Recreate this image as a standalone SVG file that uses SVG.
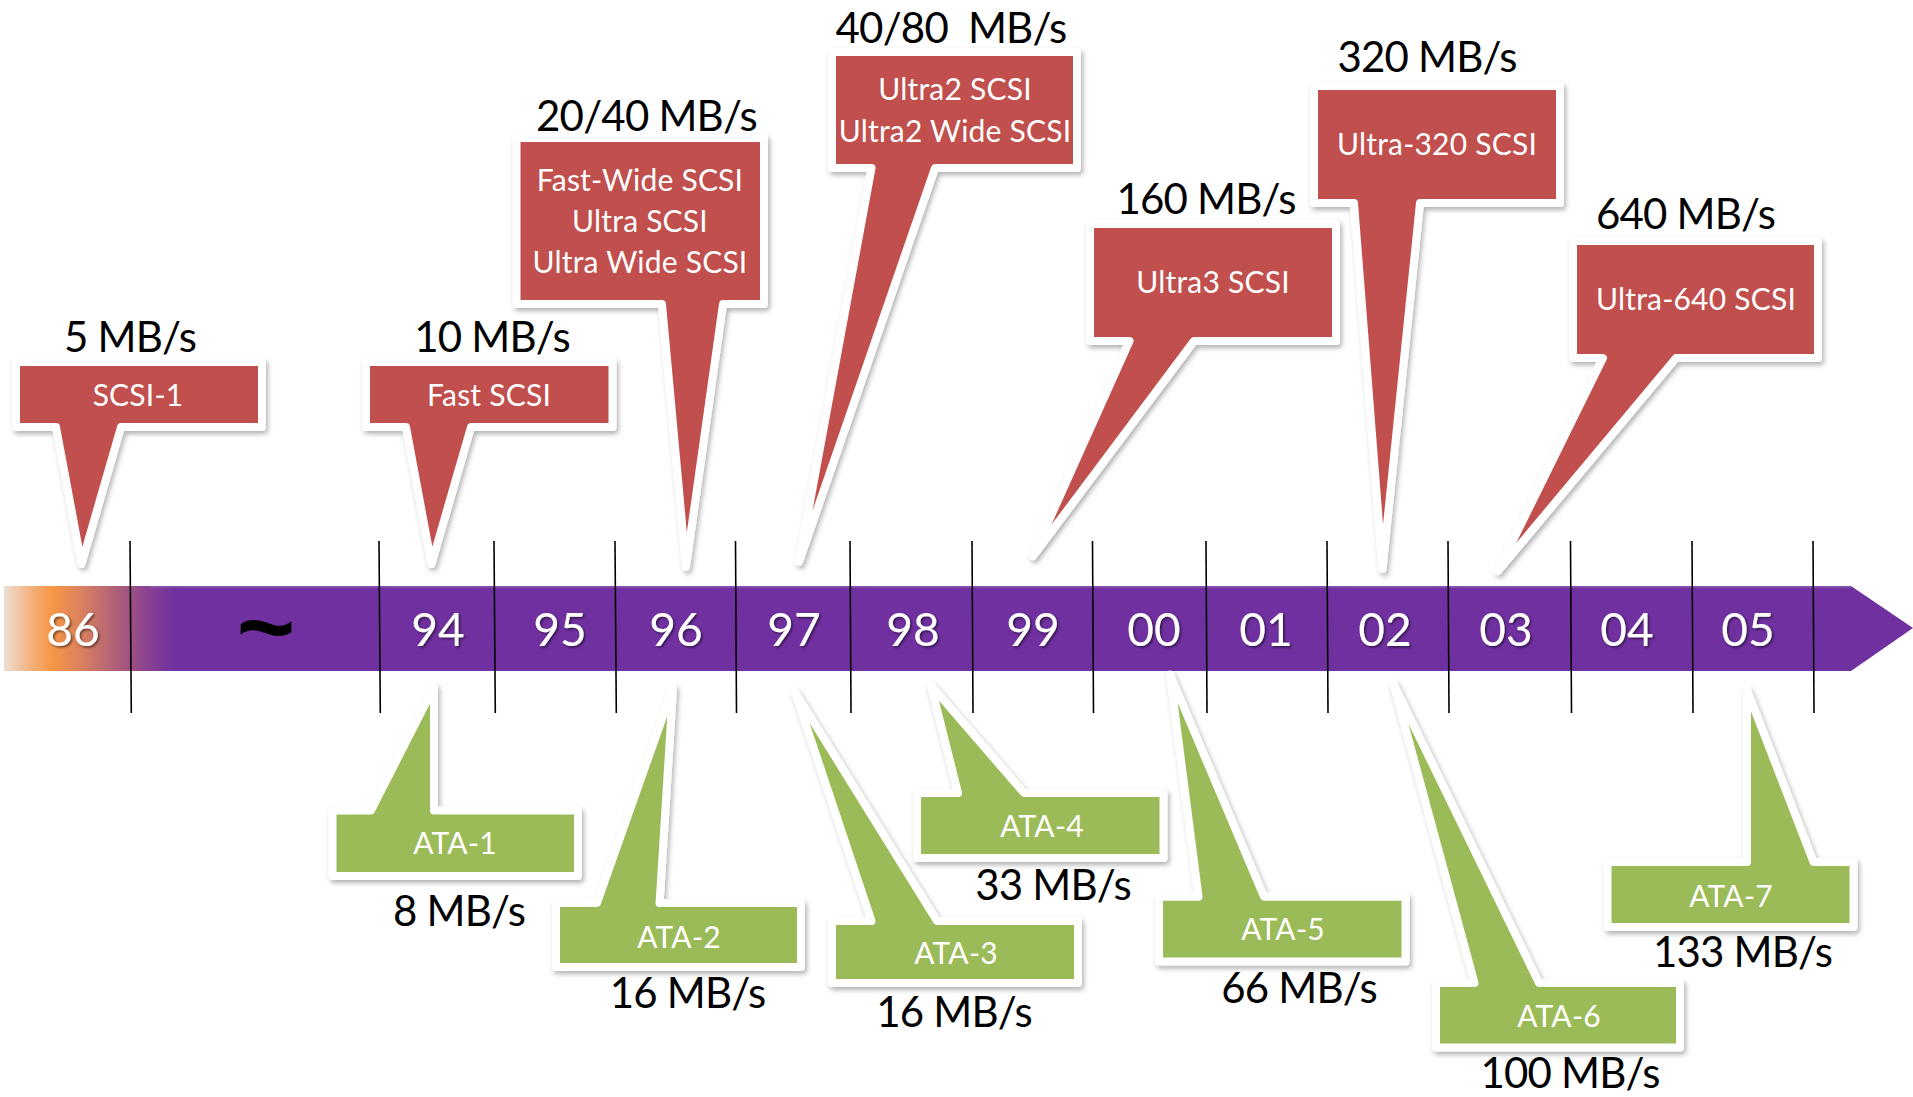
<svg xmlns="http://www.w3.org/2000/svg" width="1913" height="1097" viewBox="0 0 1913 1097">
<defs>
<linearGradient id="barGrad" gradientUnits="userSpaceOnUse" x1="0" y1="0" x2="175" y2="0">
<stop offset="0" stop-color="#ebe6e4"/>
<stop offset="0.18" stop-color="#f4b07a"/>
<stop offset="0.3" stop-color="#f79646"/>
<stop offset="0.47" stop-color="#d98060"/>
<stop offset="0.66" stop-color="#b06078"/>
<stop offset="0.84" stop-color="#8a4290"/>
<stop offset="1" stop-color="#7030a0"/>
</linearGradient>
<filter id="sh" x="-10%" y="-10%" width="130%" height="130%">
<feDropShadow dx="2" dy="3" stdDeviation="2.5" flood-color="#000" flood-opacity="0.3"/>
</filter>
<filter id="tsh" x="-20%" y="-20%" width="150%" height="150%">
<feDropShadow dx="1.5" dy="1.5" stdDeviation="1" flood-color="#000" flood-opacity="0.55"/>
</filter>
</defs>
<style>
.red{fill:#C0504D;stroke:#fff;stroke-width:8;stroke-linejoin:round}
.grn{fill:#9BBB59;stroke:#fff;stroke-width:8;stroke-linejoin:round}
.rate{font-family:Lato,"Liberation Sans",sans-serif;font-size:42px;letter-spacing:-0.8px;fill:#000;text-anchor:middle}
.lbl{font-family:Lato,"Liberation Sans",sans-serif;font-size:30px;letter-spacing:0.2px;fill:#fff;text-anchor:middle}
.yr{font-family:Lato,"Liberation Sans",sans-serif;font-size:46px;fill:#fff;text-anchor:middle}
.tick{stroke:#000;stroke-width:1.6}
</style>
<rect x="0" y="0" width="1913" height="1097" fill="#fff"/>
<g id="timeline">
<path d="M4,586 H1851 L1913,628 L1851,671 H4 Z" fill="url(#barGrad)"/>
<path d="M150,587 H1851" stroke="#8c5ab4" stroke-width="2" opacity="0.7"/>
<g id="years" filter="url(#tsh)">
<text class="yr" x="73" y="646">86</text>
<text class="yr" x="438" y="646">94</text>
<text class="yr" x="560" y="646">95</text>
<text class="yr" x="676" y="646">96</text>
<text class="yr" x="794" y="646">97</text>
<text class="yr" x="913" y="646">98</text>
<text class="yr" x="1033" y="646">99</text>
<text class="yr" x="1154" y="646">00</text>
<text class="yr" x="1266" y="646">01</text>
<text class="yr" x="1385" y="646">02</text>
<text class="yr" x="1506" y="646">03</text>
<text class="yr" x="1627" y="646">04</text>
<text class="yr" x="1748" y="646">05</text>
</g>
<text x="266" y="661" font-family="'Liberation Sans',sans-serif" font-size="100" font-weight="bold" fill="#000" text-anchor="middle">~</text>
</g>
<g id="connectors">
<line class="tick" x1="130" y1="541" x2="131.3" y2="713"/>
<line class="tick" x1="379" y1="541" x2="380.3" y2="713"/>
<line class="tick" x1="494" y1="541" x2="495.3" y2="713"/>
<line class="tick" x1="615" y1="541" x2="616.3" y2="713"/>
<line class="tick" x1="735.5" y1="541" x2="736.5" y2="713"/>
<line class="tick" x1="850" y1="541" x2="851" y2="713"/>
<line class="tick" x1="972" y1="541" x2="973" y2="713"/>
<line class="tick" x1="1092.5" y1="541" x2="1093.5" y2="713"/>
<line class="tick" x1="1206" y1="541" x2="1207" y2="713"/>
<line class="tick" x1="1327" y1="541" x2="1328" y2="713"/>
<line class="tick" x1="1448" y1="541" x2="1449" y2="713"/>
<line class="tick" x1="1570.5" y1="541" x2="1571.5" y2="713"/>
<line class="tick" x1="1692" y1="541" x2="1693" y2="713"/>
<line class="tick" x1="1813" y1="541" x2="1814" y2="713"/>
</g>
<g id="scsi1">
<path class="red" filter="url(#sh)" d="M16,362 H262 V427 H121 L81.5,564 L56,427 H16 Z"/>
<text class="lbl" x="138" y="406">SCSI-1</text>
<text class="rate" x="130" y="352">5 MB/s</text>
</g>
<g id="fastscsi">
<path class="red" filter="url(#sh)" d="M366,362 H612.5 V427 H471 L431.5,564 L406,427 H366 Z"/>
<text class="lbl" x="489" y="406">Fast SCSI</text>
<text class="rate" x="492" y="352">10 MB/s</text>
</g>
<g id="fastwide">
<path class="red" filter="url(#sh)" d="M516.5,138 H764 V304 H723 L686,567 L662,304 H516.5 Z"/>
<text class="lbl" x="640" y="191">Fast-Wide SCSI</text>
<text class="lbl" x="640" y="232">Ultra SCSI</text>
<text class="lbl" x="640" y="273">Ultra Wide SCSI</text>
<text class="rate" x="646.5" y="131">20/40 MB/s</text>
</g>
<g id="ultra2">
<path class="red" filter="url(#sh)" d="M832,52 H1077 V168 H935 L799,562 L871.5,168 H832 Z"/>
<text class="lbl" x="955" y="100">Ultra2 SCSI</text>
<text class="lbl" x="955" y="142">Ultra2 Wide SCSI</text>
<text class="rate" x="951" y="43" xml:space="preserve">40/80  MB/s</text>
</g>
<g id="ultra3">
<path class="red" filter="url(#sh)" d="M1090,224 H1336 V341 H1194 L1033,556 L1129.5,341 H1090 Z"/>
<text class="lbl" x="1213" y="293">Ultra3 SCSI</text>
<text class="rate" x="1206" y="214">160 MB/s</text>
</g>
<g id="ultra320">
<path class="red" filter="url(#sh)" d="M1314,86 H1560 V203 H1420 L1382.5,569 L1354,203 H1314 Z"/>
<text class="lbl" x="1437" y="155">Ultra-320 SCSI</text>
<text class="rate" x="1427" y="72">320 MB/s</text>
</g>
<g id="ultra640">
<path class="red" filter="url(#sh)" d="M1573,241 H1818 V358 H1676 L1498,571 L1603,358 H1573 Z"/>
<text class="lbl" x="1696" y="310">Ultra-640 SCSI</text>
<text class="rate" x="1685.5" y="229">640 MB/s</text>
</g>
<g id="ata1">
<path class="grn" filter="url(#sh)" d="M332.5,810.5 H371 L434,687 V810.5 H578 V876 H332.5 Z"/>
<text class="lbl" x="455" y="854">ATA-1</text>
<text class="rate" x="459" y="926">8 MB/s</text>
</g>
<g id="ata2">
<path class="grn" filter="url(#sh)" d="M556,903 H597 L673,688 L659.6,903 H801 V967 H556 Z"/>
<text class="lbl" x="679" y="948">ATA-2</text>
<text class="rate" x="687.5" y="1008">16 MB/s</text>
</g>
<g id="ata3">
<path class="grn" filter="url(#sh)" d="M832,921 H871.5 L795,692 L937,921 H1078 V983 H832 Z"/>
<text class="lbl" x="956" y="964">ATA-3</text>
<text class="rate" x="954" y="1027">16 MB/s</text>
</g>
<g id="ata4">
<path class="grn" filter="url(#sh)" d="M917,793 H958 L931,685.5 L1024,793 H1163.5 V858 H917 Z"/>
<text class="lbl" x="1042" y="837">ATA-4</text>
<text class="rate" x="1053" y="900">33 MB/s</text>
</g>
<g id="ata5">
<path class="grn" filter="url(#sh)" d="M1159,896.7 H1198.5 L1170,674.5 L1264,896.7 H1405.5 V961.5 H1159 Z"/>
<text class="lbl" x="1283" y="940">ATA-5</text>
<text class="rate" x="1299" y="1003">66 MB/s</text>
</g>
<g id="ata6">
<path class="grn" filter="url(#sh)" d="M1436,983 H1474.5 L1393.5,684 L1539,983 H1680 V1047.5 H1436 Z"/>
<text class="lbl" x="1559" y="1027">ATA-6</text>
<text class="rate" x="1570" y="1088">100 MB/s</text>
</g>
<g id="ata7">
<path class="grn" filter="url(#sh)" d="M1607.5,862 H1747 L1747,690 L1813.5,862 H1853.5 V927 H1607.5 Z"/>
<text class="lbl" x="1731" y="907">ATA-7</text>
<text class="rate" x="1742.5" y="967">133 MB/s</text>
</g>
</svg>
